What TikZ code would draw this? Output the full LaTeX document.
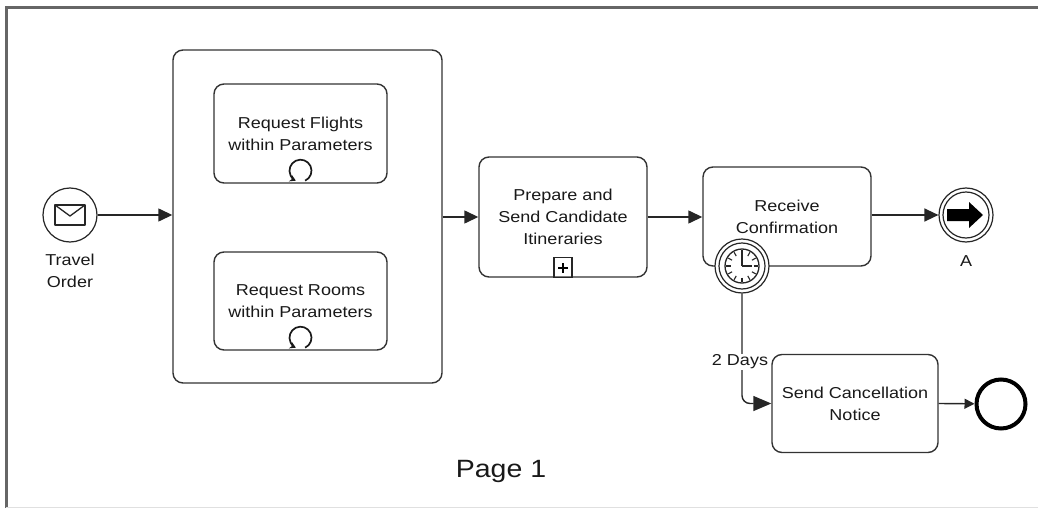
\documentclass[tikz,border=0pt]{standalone}
\usepackage{fontspec}
\setmainfont{Liberation Sans}[FakeStretch=1.14]
\usetikzlibrary{arrows.meta}
\begin{document}
\begin{tikzpicture}[x=1pt,y=-1pt,
  task/.style={draw=black!80, line width=1.4pt, rounded corners=10pt, fill=white, align=center, inner sep=0pt, font=\fontsize{15.8}{22}\selectfont, text=black!90},
  lbl/.style={font=\fontsize{15.8}{22}\selectfont, align=center, inner sep=1pt, text=black!90},
  flow/.style={draw=black!85, line width=1.4pt, -{Triangle[length=14pt,width=13pt]}},
  flowsmall/.style={draw=black!85, line width=1.4pt, -{Triangle[length=10pt,width=10pt]}},
  ev/.style={circle, draw=black!85, line width=1.2pt, fill=white, minimum size=54pt, inner sep=0pt},
  markline/.style={draw=black!90, line width=1.7pt},
]
\useasboundingbox (0,0) rectangle (1038,508);
% frame
\draw[gray!80!black, line width=3pt] (1038,8) -- (6,8) -- (6,508);
\draw[black!12, line width=1pt] (6,507) -- (1038,507);

% subprocess and tasks
\node[task, minimum width=269pt, minimum height=333pt] (O) at (307.5,216.5) {};
\node[task, minimum width=173pt, minimum height=99pt] (F) at (300.5,133.5) {Request Flights\\within Parameters};
\node[task, minimum width=173pt, minimum height=98pt] (R) at (300.5,301) {Request Rooms\\within Parameters};
\node[task, minimum width=168pt, minimum height=120pt] (P) at (563,217) {Prepare and\\Send Candidate\\Itineraries};
\node[task, minimum width=168pt, minimum height=99pt] (C) at (787,216.5) {Receive\\Confirmation};
\node[task, minimum width=166pt, minimum height=98pt] (N) at (855,403.5) {Send Cancellation\\Notice};

% loop markers
\foreach \t in {F,R} {
  \draw[markline, -{Stealth[length=6pt,width=7pt]}] ([yshift=13pt]\t.south) ++(-65:11pt) arc[start angle=-65, end angle=245, radius=11pt];
}
% collapsed subprocess marker
\draw[draw=black!85, line width=1.2pt] ([xshift=-9pt]P.south) rectangle ([xshift=9pt,yshift=20pt]P.south);
\draw[line width=1.8pt] ([yshift=10pt,xshift=-5pt]P.south) -- ([yshift=10pt,xshift=5pt]P.south);
\draw[line width=1.8pt] ([yshift=5pt]P.south) -- ([yshift=15pt]P.south);

% start event
\node[ev] (S) at (70,215) {};
\begin{scope}[shift={(S.center)}]
  \draw[draw=black!85, line width=1.3pt, line join=round] (-15,-10) rectangle (15,10);
  \draw[draw=black!85, line width=1.3pt, line join=round] (-15,-10) -- (0,1) -- (15,-10);
\end{scope}
\node[lbl] (SL) at (70,271) {Travel\\Order};

% timer boundary event
\node[ev] (T) at (742,266) {};
\node[circle, draw=black!85, line width=1.2pt, minimum size=46pt, inner sep=0pt] (T2) at (T.center) {};
\node[circle, draw=black!85, line width=1.3pt, minimum size=34pt, inner sep=0pt] (T3) at (T.center) {};
\foreach \a in {0,30,...,330} {
  \draw[draw=black!85, line width=1.1pt] (T.center) ++(\a:11.5pt) -- ++(\a:4.5pt);
}
\draw[draw=black!85, line width=1.4pt] (T.center) -- ++(0,-11);
\draw[draw=black!85, line width=1.4pt] (T.center) -- ++(10,0);

% end event A (link)
\node[ev] (A) at (966,215) {};
\node[circle, draw=black!85, line width=1.2pt, minimum size=46pt, inner sep=0pt] (A2) at (A.center) {};
\begin{scope}[shift={(A.center)}]
  \fill[black] (-19,-6) -- (3,-6) -- (3,-13) -- (17,0) -- (3,13) -- (3,6) -- (-19,6) -- cycle;
\end{scope}
\node[lbl] (AL) at (966,261) {A};

% plain end event
\node[circle, draw=black, line width=4pt, minimum size=49pt, inner sep=0pt] (E) at (1001,404) {};

% flows
\draw[flow] (S) -- (S -| O.west);
\draw[flow] (O.east |- P.west) -- (P.west);
\draw[flow] (P.east) -- (P.east -| C.west);
\draw[flow] (C.east |- A) -- (A);
\draw[flow, rounded corners=8pt, -{Triangle[length=18pt,width=15pt]}] (T.south) |- (N.west);
\node[lbl, fill=white] (D) at (740,362) {2 Days};
\draw[flowsmall] (N.east) -- (E);

% page label
\node[font=\fontsize{25}{30}\selectfont, text=black!90, inner sep=0pt] (PG) at (501,471) {Page 1};
\end{tikzpicture}
\end{document}
